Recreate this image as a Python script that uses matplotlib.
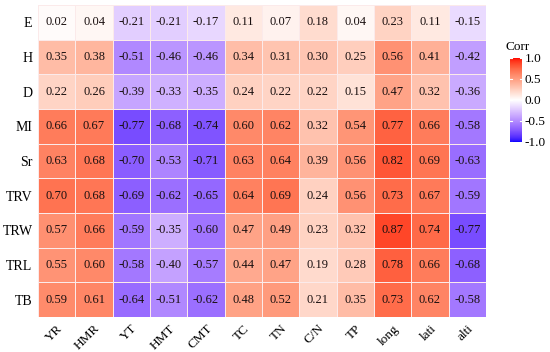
import numpy as np
import matplotlib
matplotlib.use('Agg')
import matplotlib.pyplot as plt
from matplotlib.colors import ListedColormap, Normalize
from matplotlib.cm import ScalarMappable

rows = ['E', 'H', 'D', 'MI', 'Sr', 'TRV', 'TRW', 'TRL', 'TB']
cols = ['YR', 'HMR', 'YT', 'HMT', 'CMT', 'TC', 'TN', 'C/N', 'TP', 'long', 'lati', 'alti']

E = [0.02, 0.04, -0.21, -0.21, -0.17, 0.11, 0.07, 0.18, 0.04, 0.23, 0.11, -0.15]
H = [0.35, 0.38, -0.51, -0.46, -0.46, 0.34, 0.31, 0.30, 0.25, 0.56, 0.41, -0.42]
D = [0.22, 0.26, -0.39, -0.33, -0.35, 0.24, 0.22, 0.22, 0.15, 0.47, 0.32, -0.36]
MI = [0.66, 0.67, -0.77, -0.68, -0.74, 0.60, 0.62, 0.32, 0.54, 0.77, 0.66, -0.58]
Sr = [0.63, 0.68, -0.70, -0.53, -0.71, 0.63, 0.64, 0.39, 0.56, 0.82, 0.69, -0.63]
TRV = [0.70, 0.68, -0.69, -0.62, -0.65, 0.64, 0.69, 0.24, 0.56, 0.73, 0.67, -0.59]
TRW = [0.57, 0.66, -0.59, -0.35, -0.60, 0.47, 0.49, 0.23, 0.32, 0.87, 0.74, -0.77]
TRL = [0.55, 0.60, -0.58, -0.40, -0.57, 0.44, 0.47, 0.19, 0.28, 0.78, 0.66, -0.68]
TB = [0.59, 0.61, -0.64, -0.51, -0.62, 0.48, 0.52, 0.21, 0.35, 0.73, 0.62, -0.58]

corr = np.array([E, H, D, MI, Sr, TRV, TRW, TRL, TB])


# blue - white - red gradient interpolated in Lab space (like ggplot's gradient2)
def srgb_to_lab(rgb):
    rgb = np.asarray(rgb, float)
    lin = np.where(rgb <= 0.04045, rgb / 12.92, ((rgb + 0.055) / 1.055) ** 2.4)
    M = np.array([[0.4124, 0.3576, 0.1805],
                  [0.2126, 0.7152, 0.0722],
                  [0.0193, 0.1192, 0.9505]])
    xyz = M @ lin / np.array([0.95047, 1.0, 1.08883])
    f = np.where(xyz > 0.008856, np.cbrt(xyz), 7.787 * xyz + 16 / 116)
    return np.array([116 * f[1] - 16, 500 * (f[0] - f[1]), 200 * (f[1] - f[2])])


def lab_to_srgb(lab):
    L, a, b = lab
    fy = (L + 16) / 116
    fx = fy + a / 500
    fz = fy - b / 200
    f = np.array([fx, fy, fz])
    xyz = np.where(f ** 3 > 0.008856, f ** 3, (f - 16 / 116) / 7.787)
    xyz = xyz * np.array([0.95047, 1.0, 1.08883])
    Minv = np.array([[3.2406, -1.5372, -0.4986],
                     [-0.9689, 1.8758, 0.0415],
                     [0.0557, -0.2040, 1.0570]])
    lin = Minv @ xyz
    lin = np.clip(lin, 0, 1)
    rgb = np.where(lin <= 0.0031308, 12.92 * lin, 1.055 * lin ** (1 / 2.4) - 0.055)
    return np.clip(rgb, 0, 1)


blue = srgb_to_lab([0, 0, 1])
white = srgb_to_lab([1, 1, 1])
red = srgb_to_lab([1, 0, 0])
colors = []
for t in np.linspace(-1, 1, 256):
    if t < 0:
        lab = white + (blue - white) * (-t)
    else:
        lab = white + (red - white) * t
    colors.append(lab_to_srgb(lab))
cmap = ListedColormap(colors)
norm = Normalize(-1, 1)

plt.rcParams['font.family'] = ['Liberation Serif', 'DejaVu Serif']

fig = plt.figure(figsize=(5.5, 3.52), dpi=100)
ax = fig.add_axes([38 / 550, 1 - 317 / 352, 448 / 550, 312 / 352])

ax.pcolormesh(corr, cmap=cmap, norm=norm, edgecolor='#fbeaea', linewidth=0.4)
ax.set_xlim(0, len(cols))
ax.set_ylim(len(rows), 0)

for i in range(len(rows)):
    for j in range(len(cols)):
        ax.text(j + 0.5, i + 0.5, '%.2f' % corr[i, j], ha='center', va='center',
                fontsize=9, color='#1a1010')

ax.set_xticks(np.arange(len(cols)) + 0.5)
ax.set_xticklabels(cols, rotation=45, ha='right', va='top', rotation_mode='anchor', fontsize=9.5)
ax.set_yticks(np.arange(len(rows)) + 0.5)
ax.set_yticklabels(rows, fontsize=10)
ax.tick_params(length=0, pad=4)
for s in ax.spines.values():
    s.set_visible(False)

# colorbar
cax = fig.add_axes([510 / 550, 1 - 142 / 352, 12 / 550, 84 / 352])
cb = fig.colorbar(ScalarMappable(norm=norm, cmap=cmap), cax=cax, ticks=[-1, -0.5, 0, 0.5, 1])
cb.outline.set_visible(False)
cb.ax.set_yticklabels(['-1.0', '-0.5', '0.0', '0.5', '1.0'], fontsize=9.5)
cb.ax.tick_params(length=0, pad=2)
for v in [-1, -0.5, 0, 0.5, 1]:
    cax.plot([0, 0.2], [v, v], color='white', lw=0.8)
    cax.plot([0.8, 1], [v, v], color='white', lw=0.8)
fig.text(505 / 550, 1 - 47 / 352, 'Corr', fontsize=9.5, ha='left', va='center')

fig.savefig('out.png', dpi=100)
